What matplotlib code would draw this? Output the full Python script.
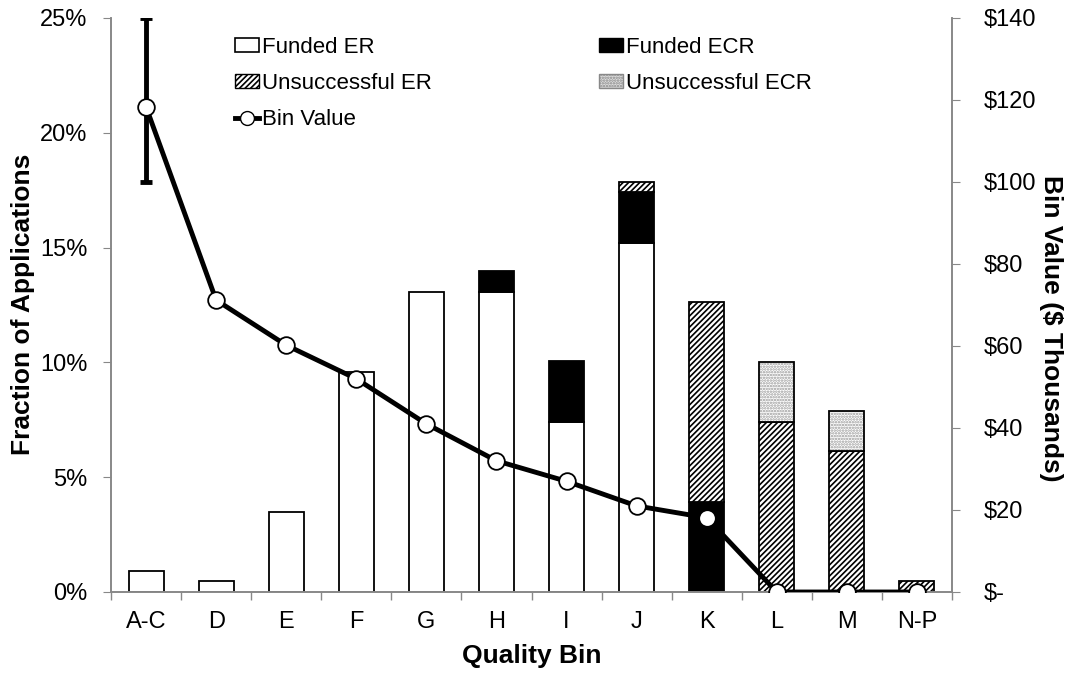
import matplotlib
matplotlib.use("Agg")
import matplotlib.pyplot as plt
from matplotlib.ticker import FuncFormatter, FixedLocator
from matplotlib.patches import Patch
from matplotlib.lines import Line2D
import numpy as np

plt.rcParams['font.family'] = ['Liberation Sans', 'DejaVu Sans']
plt.rcParams['hatch.linewidth'] = 1.2

categories = ["A-C", "D", "E", "F", "G", "H", "I", "J", "K", "L", "M", "N-P"]
funded_er = [0.91, 0.48, 3.48, 9.58, 13.07, 13.07, 7.40, 15.21, 0, 0, 0, 0]
funded_ecr = [0, 0, 0, 0, 0, 0.91, 2.66, 2.21, 3.93, 0, 0, 0]
unsucc_er = [0, 0, 0, 0, 0, 0, 0, 0.44, 8.71, 7.42, 6.13, 0.48]
unsucc_ecr = [0, 0, 0, 0, 0, 0, 0, 0, 0, 2.61, 1.74, 0]
bin_value = [118.3, 71.2, 60.2, 52.0, 41.0, 32.0, 27.0, 21.0, 18.1, 0, 0, 0]
err_low = [18.3]
err_high = [21.7]

W, H = 1070, 677
fig = plt.figure(figsize=(W/100, H/100), dpi=100)
ax = fig.add_axes([111/W, 85/H, 841/W, 574/H])
ax2 = ax.twinx()

x = np.arange(len(categories))
w = 0.5
fe = np.array(funded_er); fc = np.array(funded_ecr)
ue = np.array(unsucc_er); uc = np.array(unsucc_ecr)

def bars(vals, bottom, **kw):
    m = vals > 0
    return ax.bar(x[m], vals[m], w, bottom=bottom[m], **kw)

zero = np.zeros(len(x))
bars(fe, zero, color='white', edgecolor='black', linewidth=1.3)
bars(fc, fe, color='black', edgecolor='black', linewidth=1.3)
bars(ue, fe + fc, color='white', edgecolor='black', hatch='//////', linewidth=1.3)
bars(uc, fe + fc + ue, color='white', edgecolor='#999999', hatch='......', linewidth=0)
bars(uc, fe + fc + ue, fill=False, edgecolor='black', linewidth=1.3)

ax.set_xlim(-0.5, len(categories) - 0.5)
ax.set_ylim(0, 25)
ax.set_yticks([0, 5, 10, 15, 20, 25])
ax.yaxis.set_major_formatter(FuncFormatter(lambda v, p: f"{v:.0f}%"))
ax.set_xticks(x)
ax.set_xticklabels(categories)
ax.xaxis.set_minor_locator(FixedLocator(np.arange(-0.5, len(categories), 1.0)))
ax.tick_params(axis='x', which='major', length=0, pad=14, labelsize=17)
ax.tick_params(axis='x', which='minor', length=6, color='#888888', width=1)
ax.tick_params(axis='y', length=6, color='#888888', labelsize=17, pad=11)

ax2.errorbar(x[:1], bin_value[:1], yerr=[err_low, err_high], fmt='none',
             ecolor='black', elinewidth=3.5, capsize=4, capthick=3.5, zorder=3)
ax2.plot(x, bin_value, color='black', lw=3.5, marker='o', markersize=12,
         markerfacecolor='white', markeredgecolor='black', markeredgewidth=1.3, zorder=4)
ax2.set_ylim(0, 140)
ax2.set_yticks(np.arange(0, 141, 20))
ax2.yaxis.set_major_formatter(FuncFormatter(lambda v, p: "$-" if v == 0 else f"${v:.0f}"))
ax2.tick_params(axis='y', length=6, color='#888888', labelsize=17, pad=17)

for a in (ax, ax2):
    a.spines['top'].set_visible(False)
    for s in ('left', 'right', 'bottom'):
        a.spines[s].set_color('#888888')
        a.spines[s].set_linewidth(1.2)

fig.text(532/W, 1 - 656/H, "Quality Bin", fontsize=19, fontweight='bold',
         ha='center', va='center')
fig.text(23/W, 1 - 304/H, "Fraction of Applications", fontsize=19, fontweight='bold',
         rotation=90, ha='center', va='center')
fig.text(1051/W, 1 - 328/H, "Bin Value ($ Thousands)", fontsize=19, fontweight='bold',
         rotation=270, ha='center', va='center')

h_fer = Patch(facecolor='white', edgecolor='black', linewidth=1.2)
h_fecr = Patch(facecolor='black', edgecolor='black')
h_uer = Patch(facecolor='white', edgecolor='black', hatch='//////', linewidth=1.0)
h_uecr = Patch(facecolor='#dddddd', edgecolor='#888888', hatch='......', linewidth=1.0)
h_bin = Line2D([], [], color='black', lw=3.5, marker='o', markersize=10,
               markerfacecolor='white', markeredgecolor='black')

kw = dict(frameon=False, fontsize=16, handlelength=1.1, handleheight=0.6,
          handletextpad=0.1, labelspacing=0.68, borderaxespad=0)
leg1 = ax2.legend([h_fer, h_uer, h_bin], ["Funded ER", "Unsuccessful ER", "Bin Value"],
                  loc='upper left', bbox_to_anchor=(226/W, 1 - 28/H),
                  bbox_transform=fig.transFigure, **kw)
ax2.add_artist(leg1)
leg2 = ax2.legend([h_fecr, h_uecr], ["Funded ECR", "Unsuccessful ECR"],
                  loc='upper left', bbox_to_anchor=(590/W, 1 - 28/H),
                  bbox_transform=fig.transFigure, **kw)

fig.savefig("out.png", dpi=100)
